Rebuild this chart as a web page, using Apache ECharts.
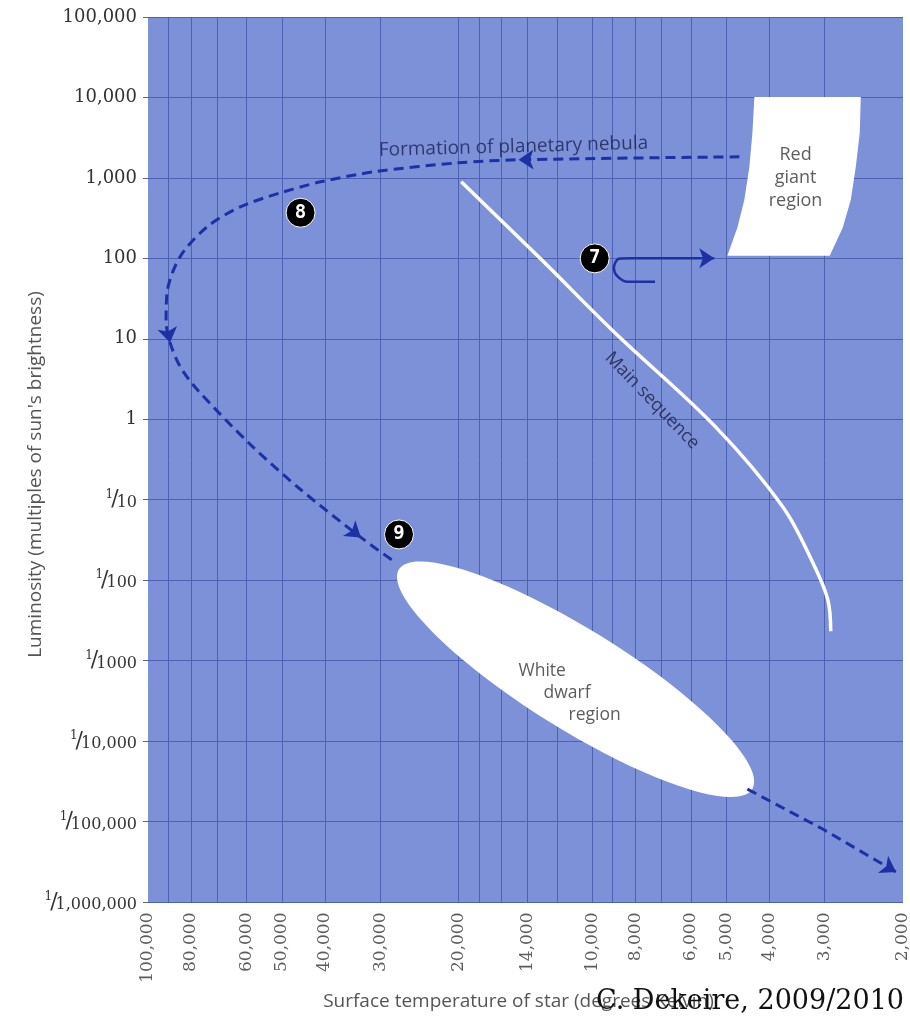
<!DOCTYPE html>
<html><head><meta charset="utf-8">
<script src="https://cdn.jsdelivr.net/npm/echarts@6/dist/echarts.min.js"></script>
<style>html,body{margin:0;padding:0;background:#fff}#c{width:910px;height:1016px}</style>
</head><body><div id="c"></div>
<script>
// ---- axis ticks ----
const yTickValues = [1e-6, 1e-5, 1e-4, 1e-3, 1e-2, 1e-1, 1, 10, 100, 1000, 10000, 100000];
const yTickLabels = ['1/1,000,000', '1/100,000', '1/10,000', '1/1000', '1/100', '1/10', '1', '10', '100', '1,000', '10,000', '100,000'];
const xTickValues = [100000, 80000, 60000, 50000, 40000, 30000, 20000, 14000, 10000, 8000, 6000, 5000, 4000, 3000, 2000];
const xTickLabels = ['100,000', '80,000', '60,000', '50,000', '40,000', '30,000', '20,000', '14,000', '10,000', '8,000', '6,000', '5,000', '4,000', '3,000', '2,000'];
const xGridValues = [90000, 80000, 70000, 60000, 50000, 40000, 30000, 20000, 18000, 16000, 14000, 12000, 10000, 9000, 8000, 7000, 6000, 5000, 4000, 3000];

// ---- evolution path (temperature K, luminosity) ----
const nebulaPath = [[4670, 1830], [14660, 1679], [20040, 1540], [31010, 1190], [40880, 894], [50330, 653], [61970, 437], [73580, 247], [84660, 105], [90600, 37.5], [91060, 16.4], [89200, 8.97], [84660, 4.52], [77500, 2.34], [58840, 0.486], [45360, 0.134], [33190, 0.034], [27960, 0.01714]];
const nebulaArrowIdx = [1, 11, 16];
const coolingPath = [[4479, 2.53e-5], [3032, 8.07e-6], [2074, 2.36e-6]];
const giantHookPath = [[7228, 51.3], [8360, 51.3], [8810, 61], [8946, 76.6], [8718, 99], [8147, 100], [5318, 100]];

// ---- main sequence ----
const mainSeqTemp = [19730, 13010, 8900, 5290, 3733, 3194, 2954, 2908];
const mainSeqLum = [894, 96, 11.9, 0.81, 0.0826, 0.0167, 0.00578, 0.00232];

// ---- regions ----
const dwarfAxisEnds = [27240, 0.01364, 4364, 2.53e-5];
const redGiantLeftTemp = [4319, 4364, 4433, 4550, 4718, 4970];
const redGiantRightTemp = [2489, 2502, 2554, 2621, 2733, 2924];
const redGiantLum = [10160, 3630, 1374, 535, 240, 108];

// ---- numbered stages ----
const stageLabels = ['7', '8', '9'];
const stageTemp = [9880, 45360, 27240];
const stageLum = [100, 369, 0.037];

// ---- annotations ----
const noteTexts = ['Formation of planetary nebula', 'Main sequence', 'Red\ngiant\nregion'];
const noteTemp = [15050, 7340, 3490];
const noteLum = [2430, 1.71, 1000];
const dwarfNoteLines = ['White', 'dwarf', 'region'];
const dwarfNotePos = [14660, 3.94e-4];

const BLUE = '#7d91d9', GRID = '#4c60b4', PATH = '#1d30a4';
const chart = echarts.init(document.getElementById('c'), null, {renderer: 'canvas'});

function yLabel(val) {
  const lg = Math.log10(val);
  const i = yTickValues.findIndex(v => Math.abs(Math.log10(v) - lg) < 0.01);
  if (i < 0) return '';
  const s = yTickLabels[i];
  if (s.indexOf('1/') === 0) return '{n|1}{s|/}{d|' + s.slice(2) + '}';
  return s;
}
const segmentEndingAt = (p, i) => ({coords: [p[i - 1], p[i]]});
const arrowSegments = nebulaArrowIdx.map(i => segmentEndingAt(nebulaPath, i))
  .concat([segmentEndingAt(coolingPath, coolingPath.length - 1), segmentEndingAt(giantHookPath, giantHookPath.length - 1)]);

const option = {
  animation: false,
  grid: {left: 148, right: 7, top: 17, bottom: 113, show: true, backgroundColor: BLUE, borderWidth: 0},
  xAxis: {
    type: 'log', logBase: 10, inverse: true, min: 2000, max: 100000,
    axisLine: {show: false}, axisTick: {show: false}, axisLabel: {show: false}, splitLine: {show: false},
    name: 'Surface temperature of star (degrees Kelvin)', nameLocation: 'middle', nameGap: 90, nameMoveOverlap: false,
    nameTextStyle: {fontSize: 19, color: '#555', fontFamily: 'Open Sans', padding: [0, 14, 0, 0]}
  },
  yAxis: {
    type: 'log', logBase: 10, min: 1e-6, max: 1e5, splitNumber: 11, interval: 1,
    axisLine: {show: false},
    axisTick: {show: true, length: 5, lineStyle: {color: '#666'}},
    axisLabel: {
      margin: 11, fontSize: 18, fontFamily: 'DejaVu Serif', color: '#333', formatter: yLabel,
      rich: {
        n: {fontSize: 12, fontFamily: 'DejaVu Serif', color: '#333', verticalAlign: 'top'},
        s: {fontSize: 22, fontFamily: 'DejaVu Serif', color: '#333', padding: [0, -2, 0, -2]},
        d: {fontSize: 16, fontFamily: 'DejaVu Serif', color: '#333', verticalAlign: 'bottom'}
      }
    },
    splitLine: {show: true, lineStyle: {color: GRID, width: 1}},
    name: "Luminosity (multiples of sun's brightness)", nameLocation: 'middle', nameRotate: 90, nameGap: 103,
    nameMoveOverlap: false,
    nameTextStyle: {fontSize: 19, color: '#555', fontFamily: 'Open Sans', padding: [0, 0, 0, -30]}
  },
  graphic: [{
    type: 'text', right: 6, top: 988, z: 100,
    style: {text: 'C. Dekeire, 2009/2010', fontSize: 27, fontFamily: 'DejaVu Serif', fill: '#111'}
  }],
  series: [
    { // vertical grid lines + x tick labels
      type: 'scatter', z: 1, silent: true, clip: false, symbolSize: 1,
      itemStyle: {color: 'rgba(0,0,0,0)'},
      data: xTickValues.map((v, i) => ({name: xTickLabels[i], value: [v, 1e-6]})),
      label: {show: true, position: 'bottom', distance: 10, rotate: 90, align: 'right', verticalAlign: 'middle',
        formatter: '{b}', fontSize: 17, fontFamily: 'DejaVu Serif', color: '#333'},
      markLine: {silent: true, z: 1, symbol: ['none', 'none'], label: {show: false},
        lineStyle: {color: GRID, width: 1, type: 'solid'},
        data: xGridValues.map(v => ({xAxis: v}))}
    },
    { // red giant region
      type: 'custom', coordinateSystem: 'cartesian2d', z: 3, silent: true,
      data: [[redGiantLeftTemp[0], redGiantLum[0]]],
      renderItem: (params, api) => {
        const left = redGiantLeftTemp.map((t, i) => api.coord([t, redGiantLum[i]]));
        const right = redGiantRightTemp.map((t, i) => api.coord([t, redGiantLum[i]])).reverse();
        return {type: 'polygon', shape: {points: left.concat(right)}, style: {fill: '#ffffff'}};
      }
    },
    { // white dwarf region
      type: 'custom', coordinateSystem: 'cartesian2d', z: 3, silent: true,
      data: [dwarfAxisEnds], encode: {x: [0, 2], y: [1, 3]},
      renderItem: (params, api) => {
        const p1 = api.coord([api.value(0), api.value(1)]);
        const p2 = api.coord([api.value(2), api.value(3)]);
        const dx = p2[0] - p1[0], dy = p2[1] - p1[1];
        return {type: 'ellipse', x: (p1[0] + p2[0]) / 2, y: (p1[1] + p2[1]) / 2,
          rotation: -Math.atan2(dy, dx),
          shape: {cx: 0, cy: 0, rx: Math.hypot(dx, dy) / 2, ry: 50}, style: {fill: '#ffffff'}};
      }
    },
    { // main sequence
      type: 'line', z: 4, silent: true, smooth: 0.35, showSymbol: false,
      data: mainSeqTemp.map((t, i) => [t, mainSeqLum[i]]),
      lineStyle: {color: '#ffffff', width: 3.5}
    },
    { // dashed evolution path: red giant -> planetary nebula -> white dwarf
      type: 'line', z: 5, silent: true, smooth: 0.3, showSymbol: false,
      data: nebulaPath,
      lineStyle: {color: PATH, width: 3, type: [10, 6]}
    },
    { // dashed cooling path
      type: 'line', z: 5, silent: true, showSymbol: false,
      data: coolingPath,
      lineStyle: {color: PATH, width: 3, type: [10, 6]}
    },
    { // hook after stage 7
      type: 'line', z: 5, silent: true, smooth: 0.3, showSymbol: false,
      data: giantHookPath,
      lineStyle: {color: PATH, width: 2.5, type: 'solid'}
    },
    { // arrowheads
      type: 'lines', coordinateSystem: 'cartesian2d', z: 6, silent: true,
      data: arrowSegments,
      lineStyle: {color: PATH, width: 0, opacity: 1},
      symbol: ['none', 'arrow'], symbolSize: 15
    },
    { // stage markers
      type: 'scatter', z: 6, silent: true, symbol: 'circle', symbolSize: 29,
      itemStyle: {color: '#000000', opacity: 1, borderColor: '#ffffff', borderWidth: 1},
      data: stageLabels.map((s, i) => ({name: s, value: [stageTemp[i], stageLum[i]]})),
      label: {show: true, position: 'inside', formatter: '{b}', color: '#fff', fontWeight: 'bold', fontSize: 19, fontFamily: 'DejaVu Sans Mono'}
    },
    { // annotations
      type: 'scatter', z: 7, silent: true, symbolSize: 1, itemStyle: {color: 'rgba(0,0,0,0)'},
      data: noteTexts.map((s, i) => ({name: s, value: [noteTemp[i], noteLum[i]]})),
      label: {show: true, position: 'inside', formatter: '{b}', fontFamily: 'Open Sans', fontSize: 18, color: '#1b2150'}
    },
    {
      type: 'scatter', z: 7, silent: true, symbolSize: 1, itemStyle: {color: 'rgba(0,0,0,0)'},
      data: [{name: dwarfNoteLines.join(' '), value: dwarfNotePos}],
      label: {show: true, position: 'inside', align: 'left', verticalAlign: 'middle',
        formatter: () => '{a|' + dwarfNoteLines[0] + '}\n{b|' + dwarfNoteLines[1] + '}\n{c|' + dwarfNoteLines[2] + '}',
        rich: {
          a: {fontFamily: 'Open Sans', fontSize: 17.5, color: '#333', lineHeight: 22, padding: [0, 0, 0, 0]},
          b: {fontFamily: 'Open Sans', fontSize: 17.5, color: '#333', lineHeight: 22, padding: [0, 0, 0, 25]},
          c: {fontFamily: 'Open Sans', fontSize: 17.5, color: '#333', lineHeight: 22, padding: [0, 0, 0, 50]}
        }}
    }
  ]
};
// per-annotation label tweaks
option.series[9].data[0].label = {rotate: 1.5, fontSize: 19, color: '#1b2150'};
option.series[9].data[1].label = {rotate: -46, fontSize: 18, color: '#1b1e40'};
option.series[9].data[2].label = {fontSize: 18, lineHeight: 23, color: '#333'};
chart.setOption(option);
</script></body></html>
